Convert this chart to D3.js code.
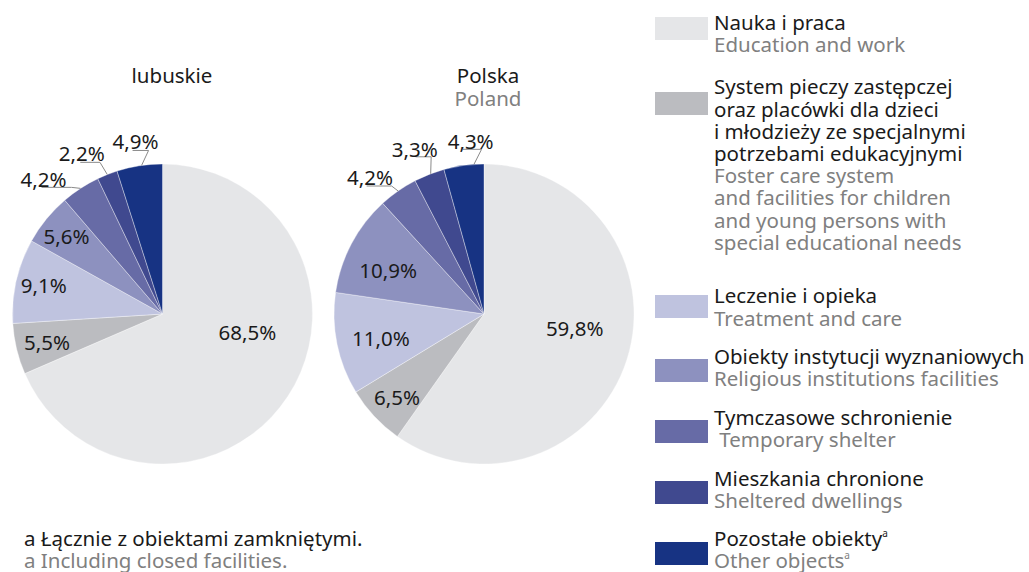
<!DOCTYPE html>
<html>
<head>
<meta charset="utf-8">
<script src="https://cdn.jsdelivr.net/npm/d3@7"></script>
<style>
  html, body { margin: 0; padding: 0; background: #fff; }
  svg { display: block; font-family: "Noto Sans", "DejaVu Sans", sans-serif; }
</style>
</head>
<body>
<svg id="chart" width="1029" height="572"></svg>
<script>
// Categories (Polish / English) and their colours
const categoriesPL = [
  "Nauka i praca",
  "System pieczy zastępczej\noraz placówki dla dzieci\ni młodzieży ze specjalnymi\npotrzebami edukacyjnymi",
  "Leczenie i opieka",
  "Obiekty instytucji wyznaniowych",
  "Tymczasowe schronienie",
  "Mieszkania chronione",
  "Pozostałe obiekty"
];
const categoriesEN = [
  "Education and work",
  "Foster care system\nand facilities for children\nand young persons with\nspecial educational needs",
  "Treatment and care",
  "Religious institutions facilities",
  " Temporary shelter",
  "Sheltered dwellings",
  "Other objects"
];
const footnoteCats = [false, false, false, false, false, false, true];
const colors = ["#e5e6e8", "#bbbcc0", "#bfc3df", "#8d91bf", "#676ba6", "#40498f", "#173383"];

// Shares (%) per region
const lubuskieValues = [68.5, 5.5, 9.1, 5.6, 4.2, 2.2, 4.9];
const polskaValues   = [59.8, 6.5, 11.0, 10.9, 4.2, 3.3, 4.3];

// Label placement per slice.
// Inside labels: radius and angular nudge (degrees) from the slice middle.
// Callouts: tip nudge (deg), text centre (tx, ty) and underline (ux0 -> ex, ey) relative to the tip.
const lubuskieLabelLayout = [
  {r: 87, nudge: -20.6}, {r: 119, nudge: -0.5}, {r: 122, nudge: 0.4}, {r: 123, nudge: -0.6},
  {out: true, nudge: 0, tx: -37, ty: -1.5, ux0: -39, ex: -9, ey: -1},
  {out: true, nudge: 0, tx: -25.6, ty: -13.8, ux0: -27, ex: -7.3, ey: -12.2},
  {out: true, nudge: 0.8, tx: -6, ty: -16.5, ux0: -9, ex: 7, ey: -15}
];
const polskaLabelLayout = [
  {r: 92, nudge: -8.2}, {r: 121, nudge: -1}, {r: 106, nudge: -2}, {r: 105, nudge: -3.8},
  {out: true, nudge: 0, tx: -28.2, ty: -6.5, ux0: -31.5, ex: -6.5, ey: -5},
  {out: true, nudge: 0.6, tx: -16, ty: -17, ux0: -15, ex: 0.5, ey: -17},
  {out: true, nudge: 3.9, tx: -3.3, ty: -15.5, ux0: -11, ex: 7.6, ey: -15}
];

const svg = d3.select("#chart");
const fmt = v => d3.format(".1f")(v).replace(".", ",") + "%";
const textDark = "#1a1a1a", textGrey = "#808080";
const FS = 20.5;

const pie = d3.pie().sort(null).value(d => d);
const R = 150;
const arc = d3.arc().innerRadius(0).outerRadius(R);

function drawPie(values, layout, cx, cy, title, subtitle, titleX) {
  const g = svg.append("g").attr("transform", `translate(${cx},${cy})`);
  const arcs = pie(values);
  g.selectAll("path.slice").data(arcs).join("path")
    .attr("class", "slice")
    .attr("d", arc)
    .attr("fill", (d, i) => colors[i])
    .attr("stroke", "#ffffff")
    .attr("stroke-opacity", 0.6)
    .attr("stroke-width", 0.6);

  arcs.forEach((d, i) => {
    const L = layout[i];
    const mid = (d.startAngle + d.endAngle) / 2;
    const a = mid + L.nudge * Math.PI / 180;
    if (!L.out) {
      g.append("text")
        .attr("x", Math.sin(a) * L.r)
        .attr("y", -Math.cos(a) * L.r)
        .attr("dy", "0.35em")
        .attr("text-anchor", "middle")
        .attr("font-size", FS)
        .attr("fill", textDark)
        .text(fmt(values[i]));
    } else {
      // Callout: value text, underline and a leader down to the slice edge
      const px = Math.sin(a) * R, py = -Math.cos(a) * R;
      g.append("polyline")
        .attr("points", [[px + L.ux0, py + L.ey], [px + L.ex, py + L.ey], [px, py]]
          .map(p => p.join(",")).join(" "))
        .attr("fill", "none")
        .attr("stroke", "#8a8a8a")
        .attr("stroke-width", 1);
      g.append("text")
        .attr("x", px + L.tx)
        .attr("y", py + L.ty)
        .attr("text-anchor", "middle")
        .attr("font-size", FS)
        .attr("fill", textDark)
        .text(fmt(values[i]));
    }
  });

  svg.append("text")
    .attr("x", titleX).attr("y", 83)
    .attr("text-anchor", "middle")
    .attr("font-size", FS)
    .attr("fill", textDark)
    .text(title);
  if (subtitle) {
    svg.append("text")
      .attr("x", titleX).attr("y", 106)
      .attr("text-anchor", "middle")
      .attr("font-size", FS)
      .attr("fill", textGrey)
      .text(subtitle);
  }
}

drawPie(lubuskieValues, lubuskieLabelLayout, 162.5, 314, "lubuskie", null, 172);
drawPie(polskaValues, polskaLabelLayout, 484, 314, "Polska", "Poland", 488);

// Legend
const legendTops = [17, 92, 295, 359, 420, 481, 542];
const legendBaselines = [30, 94.3, 303.3, 364, 425, 485.5, 545.7];
const lineH = 22.2;
const legend = svg.append("g");
categoriesPL.forEach((name, i) => {
  legend.append("rect")
    .attr("x", 655).attr("y", legendTops[i])
    .attr("width", 53).attr("height", 23)
    .attr("fill", colors[i]);
  const plLines = name.split("\n");
  const enLines = categoriesEN[i].split("\n");
  const base = legendBaselines[i];
  const addLine = (ln, k, fill) => {
    const t = legend.append("text")
      .attr("x", 714).attr("y", base + k * lineH)
      .attr("font-size", FS).attr("fill", fill)
      .attr("xml:space", "preserve")
      .text(ln);
    if (footnoteCats[i]) t.append("tspan").attr("font-size", 10).attr("dy", -9).text("a");
  };
  plLines.forEach((ln, j) => addLine(ln, j, textDark));
  enLines.forEach((ln, j) => addLine(ln, plLines.length + j, textGrey));
});

// Footnote
svg.append("text").attr("x", 24).attr("y", 546)
  .attr("font-size", FS).attr("fill", textDark)
  .text("a Łącznie z obiektami zamkniętymi.");
svg.append("text").attr("x", 24).attr("y", 568)
  .attr("font-size", FS).attr("fill", textGrey)
  .text("a Including closed facilities.");
</script>
</body>
</html>
